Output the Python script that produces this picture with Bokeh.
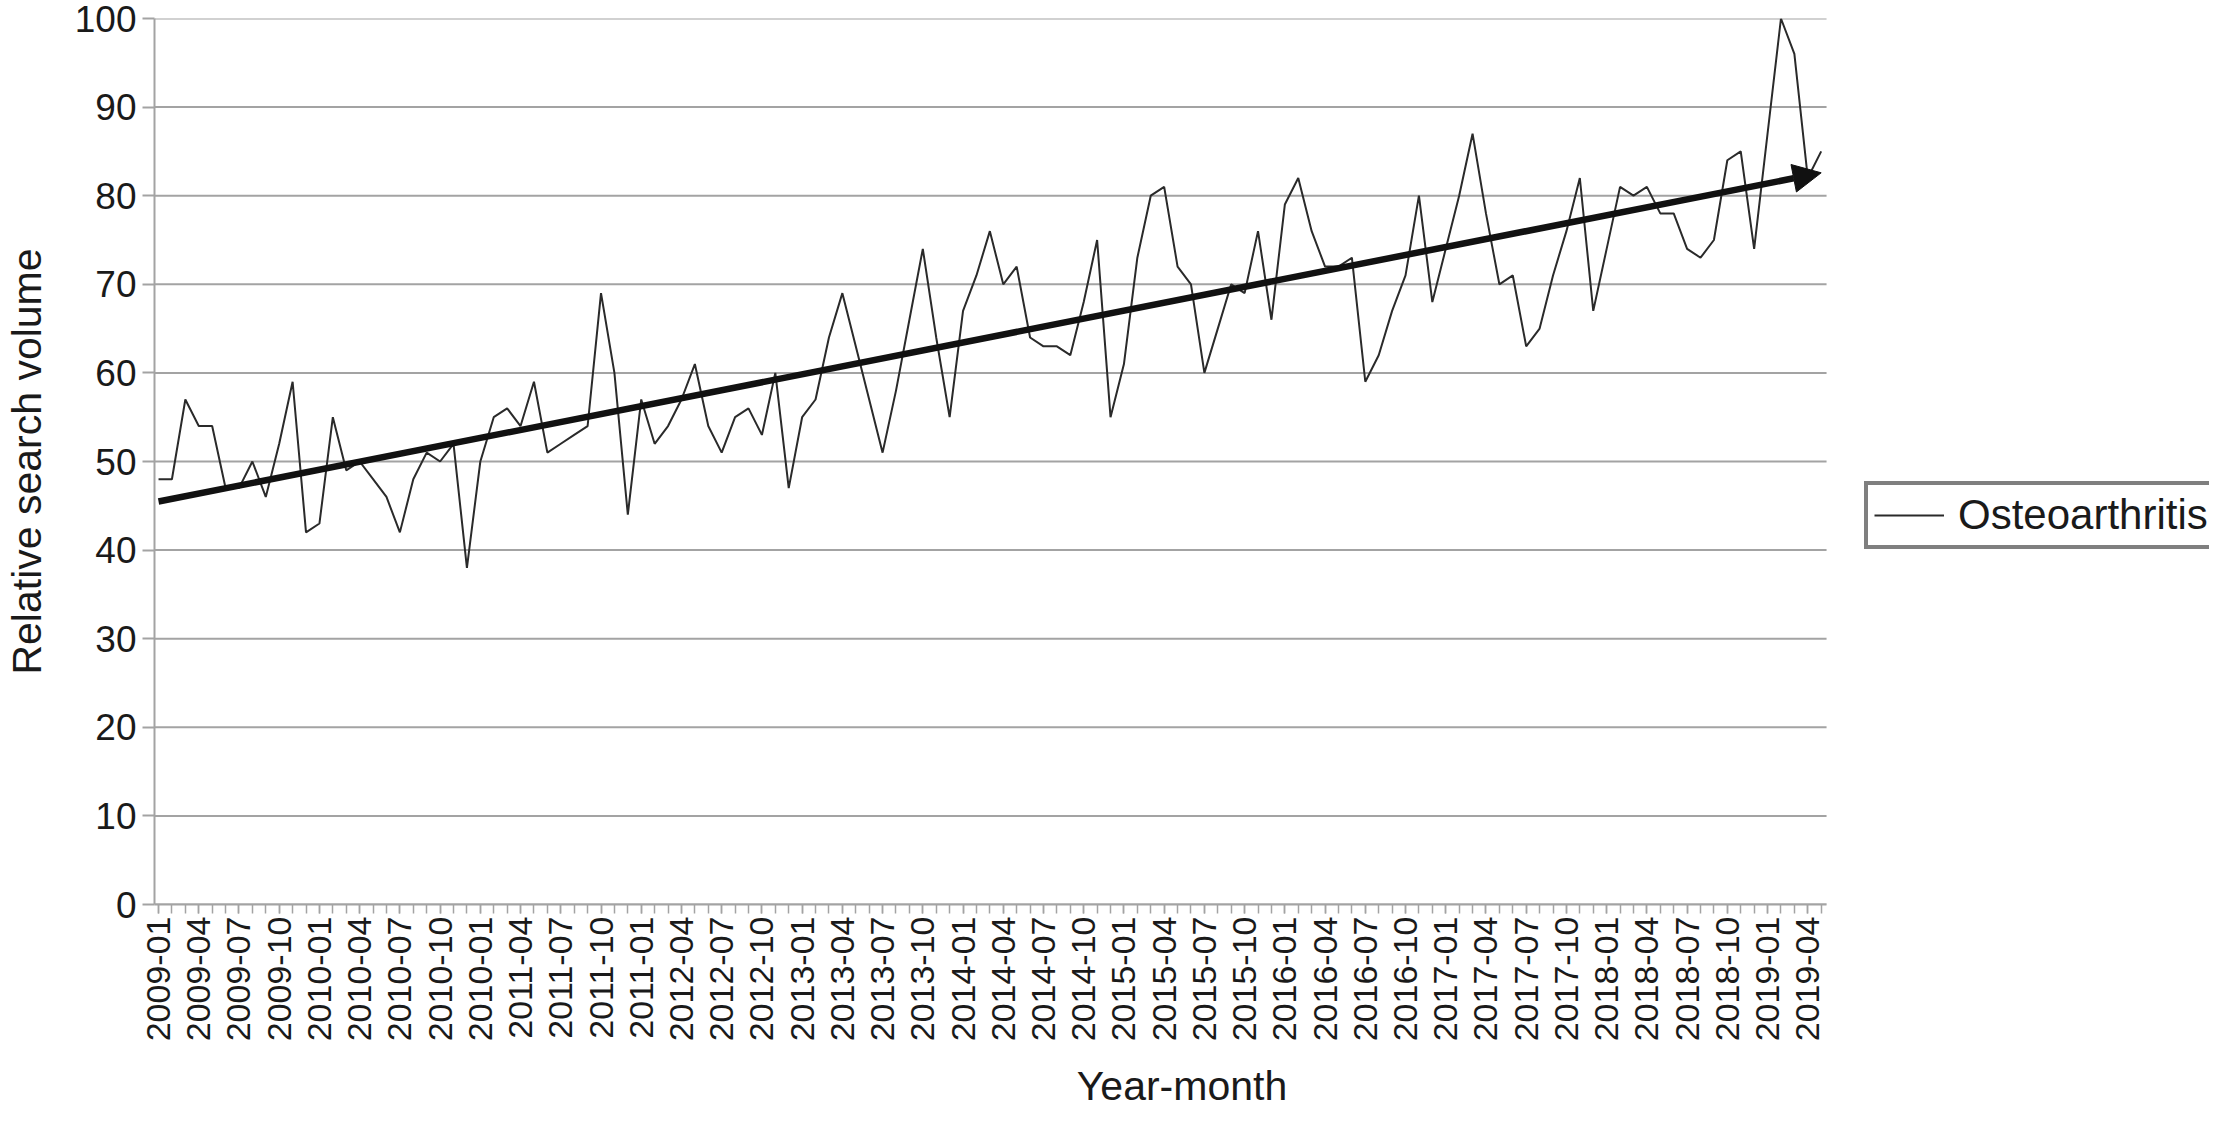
import numpy as np
from bokeh.plotting import figure
from bokeh.models import (Range1d, FixedTicker, Arrow, NormalHead, Legend,
                          LegendItem, ColumnDataSource)
from bokeh.embed import file_html
from bokeh.resources import INLINE

# ---- data (monthly, 2009-01 .. 2019-05) ----
search_volume = [
    48, 48, 57, 54, 54, 47, 47, 50, 46, 52, 59, 42, 43, 55, 49, 50, 48, 46, 42, 48,
    51, 50, 52, 38, 50, 55, 56, 54, 59, 51, 52, 53, 54, 69, 60, 44, 57, 52, 54, 57,
    61, 54, 51, 55, 56, 53, 60, 47, 55, 57, 64, 69, 63, 57, 51, 58, 66, 74, 64, 55,
    67, 71, 76, 70, 72, 64, 63, 63, 62, 68, 75, 55, 61, 73, 80, 81, 72, 70, 60, 65,
    70, 69, 76, 66, 79, 82, 76, 72, 72, 73, 59, 62, 67, 71, 80, 68, 74, 80, 87, 78,
    70, 71, 63, 65, 71, 76, 82, 67, 74, 81, 80, 81, 78, 78, 74, 73, 75, 84, 85, 74,
    87, 100, 96, 82, 85,
]

tick_labels = [
    "2009-01", "2009-04", "2009-07", "2009-10", "2010-01", "2010-04", "2010-07",
    "2010-10", "2010-01", "2011-04", "2011-07", "2011-10", "2011-01", "2012-04",
    "2012-07", "2012-10", "2013-01", "2013-04", "2013-07", "2013-10", "2014-01",
    "2014-04", "2014-07", "2014-10", "2015-01", "2015-04", "2015-07", "2015-10",
    "2016-01", "2016-04", "2016-07", "2016-10", "2017-01", "2017-04", "2017-07",
    "2017-10", "2018-01", "2018-04", "2018-07", "2018-10", "2019-01", "2019-04",
]
series_name = "Osteoarthritis"
y_ticks = [0, 10, 20, 30, 40, 50, 60, 70, 80, 90, 100]

month_index = list(range(len(search_volume)))
label_positions = [3 * k for k in range(len(tick_labels))]

FONT = "Liberation Sans"
GRID = "#a3a3a3"
TEXT = "#1a1a1a"

# plotting area spans the full width; the chart part ends at AREA_END,
# the space to its right holds the legend
AREA_START, AREA_END = -0.3, 124.4
VIEW_END = 152.96

p = figure(width=2209, height=1112, output_backend="svg", toolbar_location=None,
           x_range=Range1d(AREA_START, VIEW_END), y_range=Range1d(0, 100),
           min_border_left=150, min_border_right=0, min_border_top=18,
           min_border_bottom=203)
p.outline_line_color = None
p.background_fill_color = "white"
p.border_fill_color = "white"

# horizontal gridlines limited to the chart area
p.ygrid.grid_line_color = None
p.xgrid.grid_line_color = None
p.segment(x0=[AREA_START] * len(y_ticks), x1=[AREA_END] * len(y_ticks),
          y0=y_ticks, y1=y_ticks, line_color=GRID, line_width=2)

src = ColumnDataSource(dict(x=month_index, y=search_volume))
line_r = p.line("x", "y", source=src, line_color="#2a2a2a", line_width=2)

# linear trend as arrow
slope, intercept = np.polyfit(month_index, search_volume, 1)
x0, x1 = month_index[0], month_index[-1]
p.add_layout(Arrow(end=NormalHead(size=28, fill_color="#111111", line_color="#111111"),
                   x_start=x0, y_start=intercept + slope * x0,
                   x_end=x1, y_end=intercept + slope * x1,
                   line_width=6.5, line_color="#111111"))

# y axis
p.yaxis.ticker = FixedTicker(ticks=y_ticks)
p.yaxis.axis_label = "Relative search volume"
p.yaxis.axis_label_text_font = FONT
p.yaxis.axis_label_text_font_size = "41px"
p.yaxis.axis_label_text_font_style = "normal"
p.yaxis.axis_label_text_color = TEXT
p.yaxis.axis_label_standoff = 22
p.yaxis.major_label_text_font = FONT
p.yaxis.major_label_text_font_size = "37px"
p.yaxis.major_label_text_color = TEXT
p.yaxis.major_label_standoff = 6
p.yaxis.major_tick_out = 12
p.yaxis.major_tick_in = 0
p.yaxis.minor_tick_out = 0
p.yaxis.minor_tick_in = 0
p.yaxis.axis_line_color = GRID
p.yaxis.axis_line_width = 2
p.yaxis.major_tick_line_color = GRID
p.yaxis.major_tick_line_width = 2

# x axis
p.xaxis.bounds = (AREA_START, AREA_END)
p.xaxis.ticker = FixedTicker(ticks=label_positions, minor_ticks=month_index)
p.xaxis.major_label_overrides = {pos: lab for pos, lab in zip(label_positions, tick_labels)}
p.xaxis.major_label_orientation = np.pi / 2
p.xaxis.major_label_text_font = FONT
p.xaxis.major_label_text_font_size = "34px"
p.xaxis.major_label_text_color = TEXT
p.xaxis.major_label_standoff = 3
p.xaxis.axis_label = "Year-month"
p.xaxis.axis_label_text_font = FONT
p.xaxis.axis_label_text_font_size = "41px"
p.xaxis.axis_label_text_font_style = "normal"
p.xaxis.axis_label_text_color = TEXT
p.xaxis.axis_label_standoff = 19
p.xaxis.major_tick_out = 9
p.xaxis.major_tick_in = 0
p.xaxis.minor_tick_out = 9
p.xaxis.minor_tick_in = 0
p.xaxis.axis_line_color = GRID
p.xaxis.axis_line_width = 2
p.xaxis.major_tick_line_color = GRID
p.xaxis.minor_tick_line_color = GRID
p.xaxis.major_tick_line_width = 1.5
p.xaxis.minor_tick_line_width = 1.5

legend = Legend(items=[LegendItem(label=series_name, renderers=[line_r])],
                location=(1710, 355))
legend.label_text_font = FONT
legend.label_text_font_size = "42px"
legend.label_text_color = TEXT
legend.glyph_width = 70
legend.glyph_height = 40
legend.label_standoff = 14
legend.padding = 6
legend.margin = 0
legend.spacing = 0
legend.border_line_color = "#000000"
legend.border_line_width = 4
legend.background_fill_color = "white"
legend.background_fill_alpha = 1.0
p.add_layout(legend)

open("out.html", "w").write(file_html(p, INLINE))
